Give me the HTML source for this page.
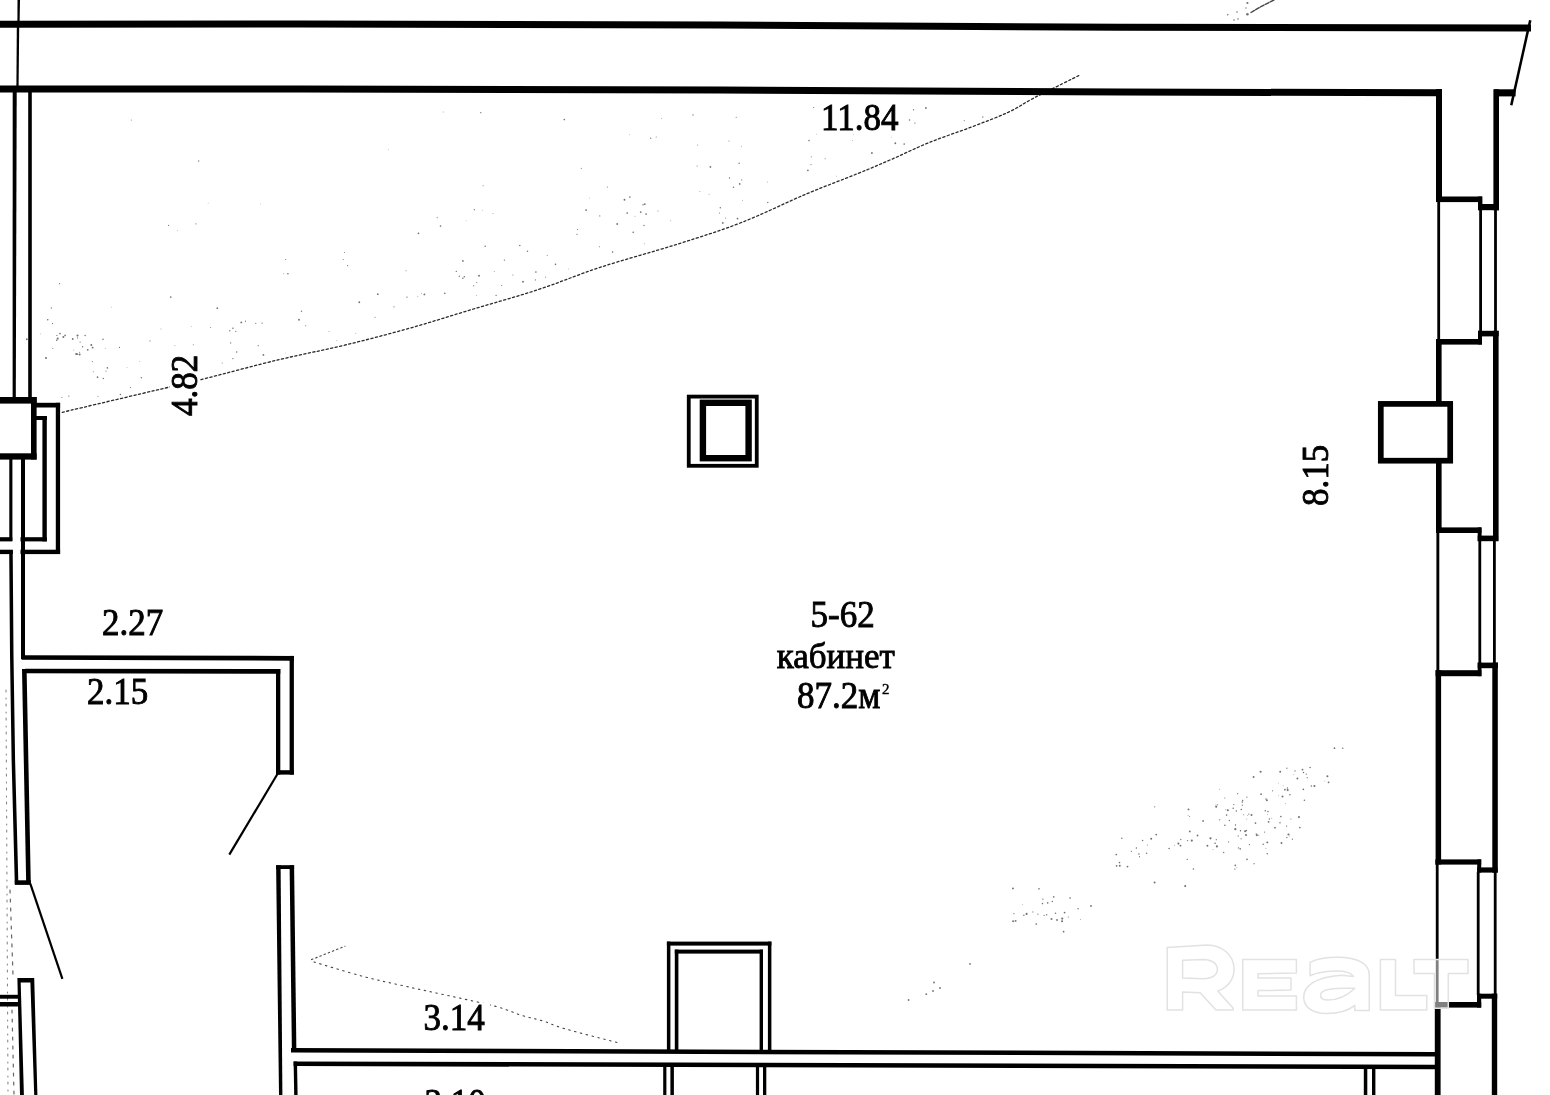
<!DOCTYPE html>
<html><head><meta charset="utf-8">
<style>
html,body{margin:0;padding:0;background:#fff;}
body{width:1550px;height:1095px;overflow:hidden;position:relative;}
svg{position:absolute;left:0;top:0;will-change:transform;}
text{font-family:"Liberation Serif",serif;fill:#000;}
</style></head><body>
<svg width="1550" height="1095" viewBox="0 0 1550 1095">
<rect x="0" y="0" width="1550" height="1095" fill="#fff"/>

<!-- faint dotted arcs -->
<g fill="none" stroke="#444" stroke-width="1.1" stroke-linecap="round">
<path d="M62.3,412.3 C79.5,408.2 141.6,393.6 165.5,388 C189.4,382.4 186.7,383.2 205.8,378.4 C224.9,373.6 256.9,364.9 280,359.4 C303.1,353.9 323.0,350.4 344.5,345.2 C366.0,340.0 387.5,334.4 409,328.4 C430.5,322.4 452.0,315.4 473.5,309 C495.0,302.6 516.9,296.6 538,289.7 C559.1,282.8 576.8,275.0 600,267.4 C623.2,259.8 653.7,251.7 677.4,244.2 C701.1,236.7 720.5,230.7 742,222.3 C763.5,213.9 787.2,202.0 806.5,193.9 C825.8,185.8 843.9,179.2 858,173.5 C872.1,167.8 879.4,164.6 891.4,159.4 C903.4,154.2 916.2,147.8 929.7,142.3 C943.2,136.9 959.3,131.7 972.3,126.7 C985.3,121.7 997.6,117.2 1007.8,112.5 C1018.0,107.8 1024.3,103.0 1033.3,98.3 C1042.3,93.6 1054.1,87.9 1061.7,84.1 C1069.3,80.3 1075.9,77.0 1078.7,75.6" stroke-dasharray="2.2 2.4" stroke="#2a2a2a" stroke-width="1.3"/>
<path d="M1251,12.5 L1262,6 L1274,0" stroke-dasharray="4 1.5" stroke-width="1.4"/>
<path d="M6,690 L8,1095" stroke="#888" stroke-width="1.1" stroke-dasharray="2 6 1 5"/>
<path d="M10,890 L13,975" stroke="#666" stroke-width="1.2" stroke-dasharray="3 6"/>
<path d="M12,1010 L14,1095" stroke="#666" stroke-width="1.2" stroke-dasharray="3 6"/>
<path d="M311.5,959.6 L345,946.2" stroke-dasharray="1.5 3"/>
<path d="M314,962 C322.2,964.4 347.6,972.3 363,976.4 C378.4,980.5 392.1,983.2 406.6,986.5 C421.1,989.8 435.1,992.7 450,996 C464.9,999.3 483.7,1003.1 495.7,1006.4 C507.7,1009.6 514.1,1013.1 522,1015.5 C529.9,1017.9 535.8,1018.8 543,1021 C550.2,1023.2 552.3,1025.1 565,1028.8 C577.7,1032.5 610.0,1040.6 619,1043" stroke-dasharray="1.5 4.5"/>
</g>
<g fill="#444" opacity="0.75">
<circle cx="970" cy="963.9" r="0.9"/><circle cx="934" cy="982.5" r="0.9"/><circle cx="940" cy="988" r="0.9"/><circle cx="933" cy="991" r="0.9"/><circle cx="926.3" cy="994.2" r="0.9"/><circle cx="908.6" cy="1000" r="0.9"/><circle cx="1091" cy="906" r="0.9"/><circle cx="1057" cy="920" r="0.9"/>
<circle cx="1247.4" cy="3" r="1.1"/><circle cx="1247.4" cy="14.2" r="1.3"/><circle cx="1227.7" cy="14.8" r="0.8"/><circle cx="1237" cy="12" r="0.8"/><circle cx="1234" cy="20" r="0.8"/><circle cx="1238" cy="19" r="0.8"/><circle cx="1246" cy="8" r="0.7"/>
<circle cx="474.3" cy="209.7" r="0.66"/>
<circle cx="527.5" cy="251.3" r="0.72"/>
<circle cx="217.3" cy="308.2" r="0.84"/>
<circle cx="130.4" cy="387.5" r="0.57"/>
<circle cx="127.0" cy="367.7" r="0.42"/>
<circle cx="191.2" cy="326.7" r="0.41"/>
<circle cx="547.2" cy="255.2" r="0.53"/>
<circle cx="68.9" cy="396.1" r="0.66"/>
<circle cx="462.9" cy="278.3" r="0.75"/>
<circle cx="519.8" cy="245.6" r="0.76"/>
<circle cx="479.0" cy="275.8" r="0.95"/>
<circle cx="719.5" cy="213.0" r="0.56"/>
<circle cx="107.4" cy="367.9" r="0.82"/>
<circle cx="424.4" cy="294.4" r="0.93"/>
<circle cx="853.4" cy="134.8" r="0.40"/>
<circle cx="241.3" cy="322.4" r="0.94"/>
<circle cx="421.5" cy="293.5" r="0.44"/>
<circle cx="644.3" cy="243.8" r="0.45"/>
<circle cx="359.3" cy="302.2" r="0.93"/>
<circle cx="767.7" cy="182.0" r="0.46"/>
<circle cx="97.5" cy="377.2" r="0.84"/>
<circle cx="210.6" cy="327.5" r="0.50"/>
<circle cx="742.6" cy="200.2" r="0.47"/>
<circle cx="658.0" cy="211.0" r="0.52"/>
<circle cx="299.0" cy="319.8" r="0.93"/>
<circle cx="811.3" cy="156.8" r="0.52"/>
<circle cx="418.5" cy="233.3" r="0.87"/>
<circle cx="656.2" cy="137.1" r="0.52"/>
<circle cx="287.9" cy="273.7" r="0.82"/>
<circle cx="355.8" cy="333.2" r="0.45"/>
<circle cx="599.4" cy="246.8" r="0.53"/>
<circle cx="617.2" cy="224.0" r="0.93"/>
<circle cx="504.4" cy="260.1" r="0.72"/>
<circle cx="871.9" cy="153.0" r="0.90"/>
<circle cx="825.1" cy="158.8" r="0.54"/>
<circle cx="222.2" cy="363.1" r="0.51"/>
<circle cx="139.7" cy="361.6" r="0.42"/>
<circle cx="964.2" cy="120.6" r="0.54"/>
<circle cx="612.6" cy="252.1" r="0.80"/>
<circle cx="106.0" cy="371.1" r="0.53"/>
<circle cx="577.0" cy="234.4" r="0.55"/>
<circle cx="235.8" cy="331.3" r="0.65"/>
<circle cx="98.0" cy="396.2" r="0.50"/>
<circle cx="394.0" cy="306.8" r="0.60"/>
<circle cx="895.3" cy="143.2" r="0.94"/>
<circle cx="670.7" cy="220.7" r="0.48"/>
<circle cx="73.7" cy="350.0" r="0.41"/>
<circle cx="913.8" cy="110.4" r="0.41"/>
<circle cx="650.7" cy="138.2" r="0.67"/>
<circle cx="741.3" cy="146.2" r="0.44"/>
<circle cx="564.3" cy="119.6" r="0.81"/>
<circle cx="904.2" cy="144.0" r="0.84"/>
<circle cx="377.8" cy="294.2" r="0.88"/>
<circle cx="440.5" cy="226.1" r="0.83"/>
<circle cx="407.0" cy="297.1" r="0.72"/>
<circle cx="624.5" cy="199.8" r="0.95"/>
<circle cx="739.1" cy="163.2" r="0.72"/>
<circle cx="462.9" cy="260.9" r="0.86"/>
<circle cx="120.4" cy="394.6" r="0.73"/>
<circle cx="501.7" cy="285.5" r="0.53"/>
<circle cx="710.4" cy="166.9" r="0.91"/>
<circle cx="285.6" cy="353.1" r="0.41"/>
<circle cx="329.0" cy="331.4" r="0.49"/>
<circle cx="909.5" cy="120.1" r="0.76"/>
<circle cx="464.3" cy="276.7" r="0.77"/>
<circle cx="230.6" cy="342.9" r="0.64"/>
<circle cx="813.7" cy="107.5" r="0.61"/>
<circle cx="599.8" cy="215.9" r="0.57"/>
<circle cx="170.7" cy="297.0" r="0.87"/>
<circle cx="722.8" cy="222.9" r="0.92"/>
<circle cx="305.7" cy="325.8" r="0.55"/>
<circle cx="245.5" cy="321.2" r="0.63"/>
<circle cx="640.7" cy="212.1" r="0.86"/>
<circle cx="982.8" cy="117.0" r="0.65"/>
<circle cx="111.7" cy="307.1" r="0.42"/>
<circle cx="720.3" cy="207.7" r="0.71"/>
<circle cx="336.7" cy="340.6" r="0.47"/>
<circle cx="476.6" cy="295.5" r="0.41"/>
<circle cx="836.5" cy="176.1" r="0.43"/>
<circle cx="644.0" cy="225.5" r="0.65"/>
<circle cx="644.8" cy="204.1" r="0.93"/>
<circle cx="697.1" cy="166.0" r="0.51"/>
<circle cx="496.1" cy="295.4" r="0.66"/>
<circle cx="725.6" cy="217.9" r="0.50"/>
<circle cx="301.5" cy="311.3" r="0.69"/>
<circle cx="629.9" cy="197.1" r="0.82"/>
<circle cx="417.8" cy="296.3" r="0.45"/>
<circle cx="733.5" cy="187.3" r="0.74"/>
<circle cx="913.6" cy="109.5" r="0.61"/>
<circle cx="586.1" cy="210.1" r="0.92"/>
<circle cx="485.2" cy="246.3" r="0.76"/>
<circle cx="236.7" cy="351.9" r="0.75"/>
<circle cx="729.0" cy="140.9" r="0.52"/>
<circle cx="555.5" cy="264.3" r="0.83"/>
<circle cx="347.6" cy="265.6" r="0.59"/>
<circle cx="119.5" cy="347.4" r="0.64"/>
<circle cx="568.3" cy="268.9" r="0.42"/>
<circle cx="816.8" cy="134.1" r="0.44"/>
<circle cx="807.9" cy="170.4" r="0.83"/>
<circle cx="174.9" cy="345.8" r="0.48"/>
<circle cx="535.9" cy="272.1" r="0.78"/>
<circle cx="512.9" cy="275.1" r="0.52"/>
<circle cx="545.6" cy="277.0" r="0.56"/>
<circle cx="739.7" cy="183.9" r="0.86"/>
<circle cx="577.6" cy="229.5" r="0.57"/>
<circle cx="406.0" cy="270.7" r="0.51"/>
<circle cx="232.9" cy="358.6" r="0.69"/>
<circle cx="523.0" cy="281.7" r="0.93"/>
<circle cx="535.4" cy="279.9" r="0.62"/>
<circle cx="809.0" cy="140.6" r="0.78"/>
<circle cx="103.3" cy="378.5" r="0.70"/>
<circle cx="437.2" cy="217.6" r="0.55"/>
<circle cx="494.2" cy="271.5" r="0.47"/>
<circle cx="456.3" cy="271.4" r="0.66"/>
<circle cx="344.5" cy="252.6" r="0.51"/>
<circle cx="633.2" cy="232.3" r="0.83"/>
<circle cx="61.9" cy="397.6" r="0.51"/>
<circle cx="258.2" cy="345.7" r="0.60"/>
<circle cx="635.0" cy="216.3" r="0.46"/>
<circle cx="741.7" cy="179.9" r="0.54"/>
<circle cx="229.8" cy="330.8" r="0.69"/>
<circle cx="459.3" cy="276.3" r="0.69"/>
<circle cx="193.3" cy="344.7" r="0.51"/>
<circle cx="646.1" cy="214.0" r="0.87"/>
<circle cx="627.2" cy="213.0" r="0.87"/>
<circle cx="263.4" cy="354.9" r="0.90"/>
<circle cx="343.2" cy="259.5" r="0.57"/>
<circle cx="925.9" cy="108.0" r="0.89"/>
<circle cx="168.6" cy="225.4" r="0.53"/>
<circle cx="737.5" cy="218.6" r="0.86"/>
<circle cx="444.8" cy="293.3" r="0.83"/>
<circle cx="161.0" cy="329.0" r="0.41"/>
<circle cx="232.9" cy="328.2" r="0.78"/>
<circle cx="914.9" cy="123.1" r="0.68"/>
<circle cx="767.8" cy="202.5" r="0.68"/>
<circle cx="629.7" cy="134.3" r="0.37"/>
<circle cx="131.3" cy="120.0" r="0.54"/>
<circle cx="482.7" cy="210.2" r="0.40"/>
<circle cx="198.7" cy="161.0" r="0.64"/>
<circle cx="891.7" cy="137.1" r="0.38"/>
<circle cx="93.3" cy="371.7" r="0.51"/>
<circle cx="697.7" cy="145.1" r="0.51"/>
<circle cx="483.1" cy="185.7" r="0.56"/>
<circle cx="51.4" cy="307.9" r="0.65"/>
<circle cx="195.9" cy="223.8" r="0.61"/>
<circle cx="388.6" cy="149.8" r="0.41"/>
<circle cx="480.8" cy="112.7" r="0.66"/>
<circle cx="729.5" cy="178.0" r="0.65"/>
<circle cx="581.3" cy="168.3" r="0.56"/>
<circle cx="473.7" cy="285.8" r="0.63"/>
<circle cx="262.1" cy="323.2" r="0.61"/>
<circle cx="709.1" cy="194.3" r="0.49"/>
<circle cx="811.0" cy="164.6" r="0.59"/>
<circle cx="699.9" cy="191.6" r="0.49"/>
<circle cx="661.5" cy="118.4" r="0.47"/>
<circle cx="443.2" cy="112.0" r="0.47"/>
<circle cx="589.3" cy="198.1" r="0.43"/>
<circle cx="852.4" cy="140.4" r="0.47"/>
<circle cx="607.4" cy="187.0" r="0.54"/>
<circle cx="375.1" cy="317.2" r="0.57"/>
<circle cx="643.1" cy="204.8" r="0.69"/>
<circle cx="59.6" cy="283.7" r="0.61"/>
<circle cx="260.7" cy="204.1" r="0.37"/>
<circle cx="208.1" cy="203.1" r="0.38"/>
<circle cx="255.8" cy="323.4" r="0.54"/>
<circle cx="476.7" cy="282.2" r="0.55"/>
<circle cx="736.2" cy="117.2" r="0.56"/>
<circle cx="693.0" cy="114.9" r="0.68"/>
<circle cx="177.5" cy="230.4" r="0.41"/>
<circle cx="466.1" cy="220.8" r="0.37"/>
<circle cx="493.0" cy="213.5" r="0.48"/>
<circle cx="285.7" cy="259.5" r="0.55"/>
<circle cx="283.8" cy="273.8" r="0.45"/>
<circle cx="1267.5" cy="814.3" r="0.43"/>
<circle cx="1286.8" cy="837.5" r="0.67"/>
<circle cx="1278.3" cy="783.1" r="0.44"/>
<circle cx="1324.8" cy="780.9" r="0.45"/>
<circle cx="1266.0" cy="799.0" r="0.73"/>
<circle cx="1265.3" cy="810.7" r="0.77"/>
<circle cx="1287.4" cy="788.1" r="0.73"/>
<circle cx="1303.4" cy="789.4" r="0.82"/>
<circle cx="1286.6" cy="826.1" r="0.72"/>
<circle cx="1246.4" cy="830.6" r="0.77"/>
<circle cx="1275.0" cy="827.7" r="0.87"/>
<circle cx="1215.1" cy="843.3" r="0.81"/>
<circle cx="1193.4" cy="869.1" r="0.77"/>
<circle cx="1328.6" cy="782.3" r="0.91"/>
<circle cx="1246.0" cy="835.1" r="1.02"/>
<circle cx="1237.7" cy="793.7" r="0.65"/>
<circle cx="1247.0" cy="859.4" r="0.80"/>
<circle cx="1189.8" cy="831.4" r="0.93"/>
<circle cx="1256.8" cy="835.1" r="1.09"/>
<circle cx="1293.9" cy="774.6" r="0.43"/>
<circle cx="1269.4" cy="819.0" r="0.70"/>
<circle cx="1224.9" cy="825.3" r="0.78"/>
<circle cx="1255.5" cy="823.1" r="0.87"/>
<circle cx="1187.5" cy="840.6" r="0.66"/>
<circle cx="1216.3" cy="839.7" r="0.64"/>
<circle cx="1219.5" cy="789.3" r="0.45"/>
<circle cx="1299.8" cy="827.5" r="0.84"/>
<circle cx="1236.4" cy="811.0" r="0.70"/>
<circle cx="1254.1" cy="863.7" r="0.66"/>
<circle cx="1154.7" cy="806.8" r="0.63"/>
<circle cx="1178.4" cy="843.6" r="1.04"/>
<circle cx="1213.0" cy="849.4" r="0.47"/>
<circle cx="1247.6" cy="815.4" r="0.46"/>
<circle cx="1197.5" cy="835.5" r="0.88"/>
<circle cx="1236.9" cy="867.7" r="0.45"/>
<circle cx="1265.9" cy="848.5" r="0.46"/>
<circle cx="1235.3" cy="865.3" r="0.89"/>
<circle cx="1241.1" cy="838.8" r="0.65"/>
<circle cx="1225.8" cy="809.8" r="0.48"/>
<circle cx="1216.2" cy="806.8" r="1.04"/>
<circle cx="1306.3" cy="774.1" r="0.71"/>
<circle cx="1242.3" cy="805.2" r="0.62"/>
<circle cx="1185.2" cy="886.1" r="1.03"/>
<circle cx="1249.4" cy="844.6" r="0.66"/>
<circle cx="1223.7" cy="852.5" r="0.67"/>
<circle cx="1267.3" cy="842.4" r="0.96"/>
<circle cx="1169.1" cy="848.5" r="0.79"/>
<circle cx="1281.5" cy="842.9" r="1.02"/>
<circle cx="1240.5" cy="830.8" r="0.76"/>
<circle cx="1191.8" cy="840.6" r="1.08"/>
<circle cx="1188.1" cy="815.2" r="0.44"/>
<circle cx="1174.4" cy="845.2" r="0.46"/>
<circle cx="1299.0" cy="817.1" r="1.03"/>
<circle cx="1290.9" cy="819.0" r="0.50"/>
<circle cx="1224.8" cy="798.0" r="0.57"/>
<circle cx="1267.3" cy="853.7" r="0.77"/>
<circle cx="1233.8" cy="804.6" r="0.64"/>
<circle cx="1289.9" cy="794.7" r="0.75"/>
<circle cx="1180.5" cy="845.7" r="0.90"/>
<circle cx="1266.9" cy="800.2" r="0.98"/>
<circle cx="1188.5" cy="809.4" r="0.96"/>
<circle cx="1260.6" cy="771.8" r="1.07"/>
<circle cx="1203.1" cy="820.9" r="0.90"/>
<circle cx="1242.7" cy="800.5" r="0.69"/>
<circle cx="1288.5" cy="834.5" r="1.09"/>
<circle cx="1228.6" cy="841.9" r="0.54"/>
<circle cx="1216.9" cy="846.4" r="1.08"/>
<circle cx="1271.8" cy="818.3" r="0.48"/>
<circle cx="1189.5" cy="816.5" r="0.53"/>
<circle cx="1280.9" cy="816.6" r="0.81"/>
<circle cx="1246.8" cy="819.1" r="0.48"/>
<circle cx="1256.2" cy="833.8" r="0.56"/>
<circle cx="1217.5" cy="804.7" r="0.56"/>
<circle cx="1258.8" cy="835.2" r="0.52"/>
<circle cx="1233.2" cy="808.2" r="0.78"/>
<circle cx="1246.9" cy="797.2" r="0.58"/>
<circle cx="1286.9" cy="768.2" r="0.64"/>
<circle cx="1146.6" cy="853.2" r="0.74"/>
<circle cx="1245.1" cy="831.2" r="1.06"/>
<circle cx="1242.3" cy="802.0" r="0.77"/>
<circle cx="1210.5" cy="838.3" r="1.09"/>
<circle cx="1219.5" cy="820.8" r="0.41"/>
<circle cx="1207.4" cy="845.8" r="0.96"/>
<circle cx="1216.0" cy="805.1" r="0.51"/>
<circle cx="1264.6" cy="832.1" r="0.58"/>
<circle cx="1261.1" cy="794.2" r="0.85"/>
<circle cx="1268.0" cy="811.6" r="0.77"/>
<circle cx="1289.4" cy="836.1" r="0.40"/>
<circle cx="1253.6" cy="776.9" r="0.98"/>
<circle cx="1268.6" cy="821.8" r="0.90"/>
<circle cx="1280.0" cy="822.7" r="0.73"/>
<circle cx="1282.5" cy="796.5" r="1.00"/>
<circle cx="1234.9" cy="869.1" r="0.69"/>
<circle cx="1251.5" cy="815.1" r="0.98"/>
<circle cx="1263.2" cy="844.3" r="0.77"/>
<circle cx="1292.4" cy="839.2" r="0.62"/>
<circle cx="1238.2" cy="835.9" r="0.61"/>
<circle cx="1187.2" cy="859.4" r="0.65"/>
<circle cx="1229.3" cy="820.5" r="0.68"/>
<circle cx="1154.6" cy="882.4" r="0.98"/>
<circle cx="1235.5" cy="825.0" r="0.66"/>
<circle cx="1226.6" cy="815.1" r="0.79"/>
<circle cx="1235.3" cy="829.2" r="1.09"/>
<circle cx="1241.3" cy="809.5" r="0.83"/>
<circle cx="1240.2" cy="848.9" r="0.78"/>
<circle cx="1238.5" cy="847.9" r="0.67"/>
<circle cx="1219.8" cy="819.5" r="0.54"/>
<circle cx="1227.8" cy="810.2" r="1.06"/>
<circle cx="1180.8" cy="839.5" r="0.63"/>
<circle cx="1243.6" cy="814.7" r="0.50"/>
<circle cx="1064.6" cy="912.6" r="0.90"/>
<circle cx="1051.5" cy="919.1" r="0.99"/>
<circle cx="1032.9" cy="911.9" r="0.56"/>
<circle cx="1046.7" cy="914.8" r="0.68"/>
<circle cx="1078.1" cy="908.8" r="0.70"/>
<circle cx="1015.6" cy="920.9" r="0.94"/>
<circle cx="1042.9" cy="899.2" r="0.63"/>
<circle cx="1037.9" cy="914.1" r="0.68"/>
<circle cx="1012.9" cy="888.4" r="0.95"/>
<circle cx="1022.5" cy="904.3" r="0.41"/>
<circle cx="1036.3" cy="924.0" r="0.86"/>
<circle cx="1055.5" cy="913.3" r="0.76"/>
<circle cx="1039.0" cy="888.8" r="0.83"/>
<circle cx="1062.1" cy="921.3" r="1.03"/>
<circle cx="1023.9" cy="915.2" r="0.75"/>
<circle cx="1062.2" cy="918.6" r="1.09"/>
<circle cx="1013.1" cy="921.3" r="0.98"/>
<circle cx="1063.6" cy="931.7" r="0.84"/>
<circle cx="1044.1" cy="915.4" r="0.57"/>
<circle cx="1013.9" cy="913.7" r="0.63"/>
<circle cx="1052.3" cy="901.5" r="0.72"/>
<circle cx="1080.6" cy="919.5" r="0.49"/>
<circle cx="1053.8" cy="896.9" r="0.79"/>
<circle cx="1026.6" cy="913.9" r="1.04"/>
<circle cx="1070.1" cy="898.1" r="0.82"/>
<circle cx="1068.3" cy="917.0" r="0.60"/>
<circle cx="1047.7" cy="902.9" r="0.80"/>
<circle cx="1042.5" cy="903.6" r="0.78"/>
<circle cx="1131.3" cy="851.4" r="0.53"/>
<circle cx="1156.2" cy="834.6" r="0.86"/>
<circle cx="1127.5" cy="866.6" r="0.92"/>
<circle cx="1119.8" cy="865.8" r="0.96"/>
<circle cx="1136.4" cy="848.1" r="0.73"/>
<circle cx="1138.9" cy="854.0" r="0.80"/>
<circle cx="1139.5" cy="856.7" r="0.58"/>
<circle cx="1116.3" cy="854.5" r="0.85"/>
<circle cx="1147.3" cy="845.0" r="0.50"/>
<circle cx="1142.6" cy="840.5" r="0.73"/>
<circle cx="1116.6" cy="865.8" r="0.88"/>
<circle cx="1121.8" cy="838.3" r="0.74"/>
<circle cx="1151.2" cy="838.7" r="1.00"/>
<circle cx="1119.5" cy="862.6" r="0.80"/>
<circle cx="1310.1" cy="767.6" r="0.77"/>
<circle cx="1248.8" cy="814.1" r="0.62"/>
<circle cx="1327.4" cy="776.2" r="1.03"/>
<circle cx="1280.2" cy="771.7" r="0.93"/>
<circle cx="1285.5" cy="803.4" r="0.45"/>
<circle cx="1311.4" cy="786.0" r="0.75"/>
<circle cx="1284.9" cy="789.7" r="0.89"/>
<circle cx="1272.6" cy="790.8" r="0.61"/>
<circle cx="1278.7" cy="795.6" r="0.45"/>
<circle cx="1334.5" cy="748.2" r="0.87"/>
<circle cx="1302.5" cy="769.6" r="0.96"/>
<circle cx="1304.4" cy="800.2" r="0.80"/>
<circle cx="1297.4" cy="778.5" r="0.95"/>
<circle cx="1314.4" cy="786.0" r="1.07"/>
<circle cx="1307.2" cy="777.7" r="0.61"/>
<circle cx="1287.7" cy="790.1" r="1.03"/>
<circle cx="1295.0" cy="770.9" r="0.65"/>
<circle cx="1283.2" cy="785.8" r="0.42"/>
<circle cx="1303.5" cy="772.6" r="0.75"/>
<circle cx="1342.8" cy="748.2" r="0.73"/>
<circle cx="79.6" cy="354.5" r="1.05"/>
<circle cx="91.3" cy="345.0" r="0.99"/>
<circle cx="52.8" cy="348.6" r="0.52"/>
<circle cx="150.0" cy="340.9" r="0.54"/>
<circle cx="63.4" cy="337.1" r="1.02"/>
<circle cx="87.7" cy="349.8" r="0.91"/>
<circle cx="46.0" cy="358.1" r="1.01"/>
<circle cx="72.7" cy="339.0" r="0.89"/>
<circle cx="105.2" cy="348.4" r="0.46"/>
<circle cx="77.1" cy="354.2" r="0.90"/>
<circle cx="79.6" cy="352.3" r="0.56"/>
<circle cx="52.5" cy="323.6" r="0.66"/>
<circle cx="47.7" cy="319.8" r="0.81"/>
<circle cx="76.2" cy="354.0" r="1.05"/>
<circle cx="65.1" cy="335.3" r="0.85"/>
<circle cx="141.3" cy="377.7" r="0.71"/>
<circle cx="40.3" cy="333.9" r="0.43"/>
<circle cx="56.9" cy="335.4" r="0.58"/>
<circle cx="80.1" cy="342.1" r="0.60"/>
<circle cx="77.6" cy="337.9" r="0.60"/>
<circle cx="57.7" cy="338.6" r="1.03"/>
<circle cx="82.6" cy="346.7" r="0.72"/>
<circle cx="77.5" cy="335.5" r="1.05"/>
<circle cx="56.7" cy="340.3" r="0.79"/>
<circle cx="60.0" cy="333.5" r="0.86"/>
<circle cx="85.1" cy="335.4" r="0.75"/>
<circle cx="103.0" cy="339.2" r="0.76"/>
<circle cx="92.6" cy="347.6" r="0.95"/>
<circle cx="92.3" cy="361.6" r="0.56"/>
<circle cx="26.8" cy="339.2" r="0.95"/>
</g>

<!-- main walls -->
<g fill="#000">
<!-- top line T1 (slightly sloped) -->
<polygon points="0,20.7 300,20.5 720,21.4 1120,23.8 1531,24.4 1531,31.4 1120,30.8 720,28.4 300,27.5 0,27.7"/>
<!-- slanted right end -->
<polygon points="1529,20 1531.5,20.5 1512.5,105.5 1510,105"/>
<!-- T2 -->
<polygon points="0,85.4 300,85.6 720,86.5 1120,88.5 1442,89.3 1442,96.3 1120,95.5 720,93.5 300,92.6 0,92.4"/>
<!-- left wall segment A -->
<polygon points="12.7,92 16.7,92 15.8,398 12.6,398"/>
<rect x="28.2" y="90" width="3.6" height="308"/>
<!-- rough line above T1 -->
<polygon points="17.5,0 20,0 19.6,22 17.4,22"/>
<polygon points="16.8,27 19.2,27 18.6,86 16.4,86"/>
<!-- left box -->
<rect x="0" y="397" width="36.7" height="6.6"/>
<rect x="31" y="397" width="5.6" height="62.5"/>
<rect x="0" y="453.3" width="36.6" height="6.3"/>
<!-- outer U -->
<rect x="36" y="402.8" width="24.1" height="4.7"/>
<rect x="55.8" y="402.8" width="4.3" height="151.2"/>
<rect x="20.5" y="549.7" width="39.6" height="4.4"/>
<rect x="0" y="549.7" width="12.8" height="4.4"/>
<!-- inner U -->
<rect x="36" y="416" width="11" height="4"/>
<rect x="42.4" y="416" width="4.4" height="125.4"/>
<rect x="20.5" y="537.2" width="26.3" height="4.2"/>
<rect x="0" y="537.2" width="12.3" height="4.2"/>
<!-- left wall segment B -->
<rect x="9.3" y="459" width="3.1" height="82"/>
<rect x="21" y="459" width="4" height="200"/>
<!-- segment C -->
<polygon points="9.2,550 10,655 11.6,760 14.8,884 18.4,884 15.1,760 13.5,655 12.7,550"/>
<polygon points="22,669 26.6,669 30.8,884 26.2,884"/>
<rect x="14.8" y="880.3" width="16" height="4.6"/>
<!-- door swing left -->
<line x1="30.3" y1="883.7" x2="62.4" y2="978.8" stroke="#000" stroke-width="2.2"/>
<!-- segment D -->
<polygon points="17.4,978 34.2,978 37.4,1095 20,1095 " fill="#000"/>
<polygon points="20.7,982.6 30.4,982.6 34.2,1095 23.9,1095" fill="#fff"/>
<rect x="0" y="994.8" width="18" height="3.9"/>
<rect x="0" y="1002" width="18.5" height="4.5"/>

<!-- partition horizontals -->
<polygon points="21.6,655.2 293.9,655.9 293.9,660.7 21.6,659.7"/>
<polygon points="25,668.7 280.3,669 280.3,673.8 25,673.2"/>
<rect x="289.6" y="655.9" width="4.3" height="118.7"/>
<rect x="276" y="669" width="4.3" height="105.6"/>
<rect x="276" y="770.2" width="17.9" height="4.4"/>
<line x1="277.6" y1="773.8" x2="229.3" y2="854.6" stroke="#000" stroke-width="2.2"/>

<!-- lower partition wall -->
<polygon points="276.1,865.2 280.6,865.2 282.4,1095 279,1095"/>
<rect x="276.1" y="865.2" width="18" height="3.8"/>
<polygon points="289.6,865.2 294.1,865.2 296.4,1052 291.9,1052"/>
<!-- B1, B2 -->
<polygon points="291,1048 1435,1052 1435,1056.5 291,1052.6"/>
<polygon points="293.6,1061.5 1435,1064.7 1435,1069.3 293.6,1066"/>
<polygon points="293.6,1061.5 297,1061.5 297.6,1095 294.2,1095"/>
<!-- verticals below B2 -->
<rect x="663.2" y="1064" width="3.2" height="31"/>
<rect x="670.4" y="1064" width="3.5" height="31"/>
<rect x="755.9" y="1064" width="3.2" height="31"/>
<rect x="763" y="1064" width="3.3" height="31"/>
<rect x="1363.8" y="1067" width="3.5" height="28"/>
<rect x="1372" y="1067" width="3.4" height="28"/>

<!-- bottom center door frame -->
<rect x="666.9" y="941.6" width="104.5" height="4"/>
<rect x="666.9" y="941.6" width="3.5" height="110"/>
<rect x="767.9" y="941.6" width="3.5" height="110"/>
<rect x="674.8" y="949.6" width="88.2" height="4"/>
<rect x="674.8" y="949.6" width="3.6" height="102"/>
<rect x="759.6" y="949.6" width="3.4" height="102"/>

<!-- central pillar -->
<rect x="688.75" y="396.6" width="68" height="69.2" fill="none" stroke="#000" stroke-width="3.8"/>
<rect x="702.9" y="402.8" width="45.7" height="55.4" fill="none" stroke="#000" stroke-width="6.4"/>


<!-- right wall: pier 1 -->
<rect x="1436" y="89" width="6" height="113"/>
<rect x="1436" y="196.5" width="46" height="5.6"/>
<rect x="1478" y="196.5" width="4.4" height="13.7"/>
<rect x="1478" y="204" width="21" height="6.2"/>
<rect x="1493.4" y="89.3" width="5.6" height="121"/>
<rect x="1494" y="89.3" width="21.6" height="7.1"/>
<!-- window 1 -->
<rect x="1437.3" y="202" width="2.8" height="138"/>
<rect x="1479.2" y="210" width="2.8" height="122"/>
<rect x="1494.1" y="210" width="2.8" height="122"/>
<!-- pier 2 -->
<rect x="1478" y="330.8" width="20.7" height="5.6"/>
<rect x="1478" y="330.8" width="4" height="13.7"/>
<rect x="1436.4" y="339" width="45.6" height="5.6"/>
<rect x="1436" y="339" width="5.6" height="194"/>
<rect x="1493" y="330.8" width="5.6" height="210.3"/>
<rect x="1436" y="527.4" width="45.4" height="5.6"/>
<rect x="1477.7" y="527.4" width="3.9" height="13.7"/>
<rect x="1477.7" y="535.6" width="20.4" height="5.6"/>
<!-- window 2 -->
<rect x="1436.4" y="533" width="2.9" height="138"/>
<rect x="1478.4" y="541" width="2.8" height="123"/>
<rect x="1493" y="541" width="2.8" height="123"/>
<!-- pier 3 -->
<rect x="1477.7" y="662.6" width="20.3" height="5.6"/>
<rect x="1477.7" y="662.6" width="3.8" height="13.6"/>
<rect x="1435.6" y="670.2" width="45.8" height="6"/>
<rect x="1435.6" y="670.2" width="5.5" height="194.3"/>
<rect x="1492.3" y="662.6" width="5.5" height="210"/>
<rect x="1435.3" y="859.4" width="45.9" height="5.2"/>
<rect x="1477.2" y="859.4" width="4" height="13.2"/>
<rect x="1477.2" y="867.4" width="20.4" height="5.2"/>
<!-- window 3 -->
<rect x="1435.8" y="864" width="2.8" height="140"/>
<rect x="1476.8" y="872" width="2.8" height="123"/>
<rect x="1493.8" y="872" width="2.8" height="123"/>
<!-- pier 4 -->
<rect x="1477" y="993.7" width="20.2" height="5"/>
<rect x="1477" y="993.7" width="4.2" height="13.9"/>
<rect x="1434.8" y="1002" width="46.4" height="5.6"/>
<rect x="1434.8" y="1002" width="5.8" height="93"/>
<rect x="1491.8" y="993.7" width="5.4" height="101.3"/>
<!-- right pillar -->
<rect x="1380.8" y="403.9" width="69.4" height="56.8" fill="#fff" stroke="#000" stroke-width="5.7"/>
</g>

<!-- texts -->
<g fill="#fff">
<rect x="170" y="353" width="30" height="66"/>
<rect x="1300" y="444" width="31" height="64"/>
<rect x="420" y="1003" width="70" height="30"/>
<rect x="820" y="102" width="82" height="30"/>
</g>
<g font-size="35" stroke="#000" stroke-width="0.85">
<text transform="translate(821,129.5) scale(1,1.08)">11.84</text>
<text transform="translate(197.3,416) rotate(-90) scale(1,1.08)">4.82</text>
<text transform="translate(1328,506) rotate(-90) scale(1,1.08)">8.15</text>
<text transform="translate(102,635) scale(1,1.08)">2.27</text>
<text transform="translate(87,703.8) scale(1,1.08)">2.15</text>
<text transform="translate(423.5,1029.8) scale(1,1.08)">3.14</text>
<text transform="translate(424.5,1115) scale(1,1.08)">3.10</text>
<text transform="translate(810.6,627.2) scale(1,1.08)">5-62</text>
<text transform="translate(776.8,667.5) scale(1,1.0)">кабинет</text>
<text transform="translate(797,707.9) scale(1,1.08)">87.2м</text>
<text transform="translate(882,694)" font-size="15" stroke-width="0.4">2</text>
</g>

<!-- watermark -->
<g fill="rgba(255,255,255,0.5)" stroke="#e2e2e2" stroke-width="1.5" fill-rule="evenodd" stroke-linejoin="round">
<path d="M1167.2,1010 L1167.2,947.6 L1207,944.9 C1222,945 1234,955 1234.1,969.3 C1234,980 1227,988 1217.8,991 L1233.2,1008.2 L1233.2,1010 L1216,1010 L1200.2,992.8 L1182.6,991.9 L1182.6,1010 Z M1182.6,960.3 L1203.4,959.4 C1212,959.5 1217.4,964 1217.4,969.3 C1217.4,975 1212,978.8 1203.4,978.8 L1182.6,977.9 Z"/>
<path d="M1242.7,959.4 L1296.4,959.4 L1296.4,972.9 L1258,973.8 L1258,977.9 L1291,977.9 L1291,990.1 L1258,990.6 L1258,996 L1296.4,996 L1296.4,1010 L1242.7,1010 Z"/>
<path d="M1310.1,962.4 C1318,958 1328,957.2 1338,957.2 C1358,957.2 1369.3,964 1369.3,975 L1369.3,1010.6 L1354.8,1010.6 L1354.8,1005.4 C1348,1011 1338,1013.5 1326.4,1013.5 C1311,1013.5 1303.7,1006 1303.7,997.3 C1303.7,986 1315,977 1341.5,975.2 L1353.6,976.4 C1350,972 1345,971.1 1338,971.1 C1325,971.1 1316,973 1310.1,975.8 Z M1320.5,995 C1320.5,990 1330,987.5 1354.8,988.3 C1348,995 1338,1000 1328,1000 C1323,1000 1320.5,998 1320.5,995 Z"/>
<path d="M1380.4,959.5 L1395.5,959.5 L1395.5,995.5 L1426.8,995.5 L1426.8,1010 L1380.4,1010 Z"/>
<path d="M1414,959.5 L1468,959.5 L1468,973.5 L1448.3,973.5 L1448.3,1008.3 L1434.4,1008.3 L1434.4,973.5 L1414,973.5 Z"/>
</g>
</svg>
</body></html>
